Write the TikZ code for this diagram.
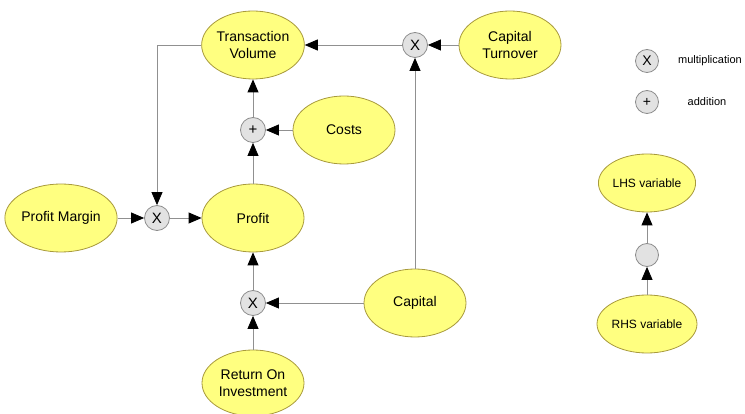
\documentclass[tikz,border=0pt]{standalone}
\usepackage{fontspec}
\setmainfont{Liberation Sans}
\usetikzlibrary{shapes.geometric,arrows.meta}
\definecolor{vfill}{HTML}{FFFF80}
\definecolor{vdraw}{HTML}{A89A3C}
\definecolor{ofill}{HTML}{E2E2E2}
\definecolor{odraw}{HTML}{8C8C8C}
\definecolor{lgray}{HTML}{909090}
\tikzset{
  var/.style={ellipse, draw=vdraw, fill=vfill, line width=0.8pt, inner sep=0pt,
    minimum width=102pt, minimum height=68pt, align=center,
    font=\fontsize{14}{17}\selectfont},
  smallvar/.style={var, minimum width=86pt, minimum height=58pt,
    font=\fontsize{12}{14}\selectfont},
  op/.style={circle, draw=odraw, fill=ofill, line width=0.8pt, inner sep=0pt,
    minimum size=25pt, font=\fontsize{15}{15}\selectfont},
  smallop/.style={op, minimum size=23pt, font=\fontsize{14}{14}\selectfont},
  legtext/.style={font=\fontsize{11}{13}\selectfont},
  conn/.style={draw=lgray, line width=0.8pt,
    -{Triangle[length=13pt,width=11pt,color=black]}},
}
\begin{document}
\begin{tikzpicture}[x=1pt,y=-1pt]
\useasboundingbox (0,0) rectangle (745,414);
% variables
\node[var] (tv) at (253,45) {Transaction\\Volume};
\node[var] (ct) at (510,45) {Capital\\Turnover};
\node[var] (costs) at (344,130) {Costs};
\node[var] (pm) at (61,218) {Profit Margin};
\node[var] (profit) at (253,218) {Profit};
\node[var] (cap) at (415,303) {Capital};
\node[var, minimum height=66pt] (roi) at (253,383) {Return On\\Investment};
% operators
\node[op] (xt) at (415,45) {X};
\node[op] (plus) at (253,130) {+};
\node[op] (xm) at (157,218) {X};
\node[op] (xb) at (253,303) {X};
% connectors
\draw[conn] (tv.west) -| (xm.north);
\draw[conn] (ct.west) -- (xt.east);
\draw[conn] (xt.west) -- (tv.east);
\draw[conn] (cap.north) -- (xt.south);
\draw[conn] (costs.west) -- (plus.east);
\draw[conn] (plus.north) -- (tv.south);
\draw[conn] (profit.north) -- (plus.south);
\draw[conn] (pm.east) -- (xm.west);
\draw[conn] (xm.east) -- (profit.west);
\draw[conn] (cap.west) -- (xb.east);
\draw[conn] (roi.north) -- (xb.south);
\draw[conn] (xb.north) -- (profit.south);
% legend
\node[smallop] (lx) at (647,61) {X};
\node[legtext] (lxt) at (710,61) {multiplication};
\node[smallop] (lp) at (647,102) {+};
\node[legtext] (lpt) at (707,102) {addition};
\node[smallvar] (lhs) at (647,183) {LHS variable};
\node[smallop] (lo) at (647,255) {};
\node[smallvar] (rhs) at (647,324) {RHS variable};
\draw[conn] (rhs.north) -- (lo.south);
\draw[conn] (lo.north) -- (lhs.south);
\end{tikzpicture}
\end{document}
